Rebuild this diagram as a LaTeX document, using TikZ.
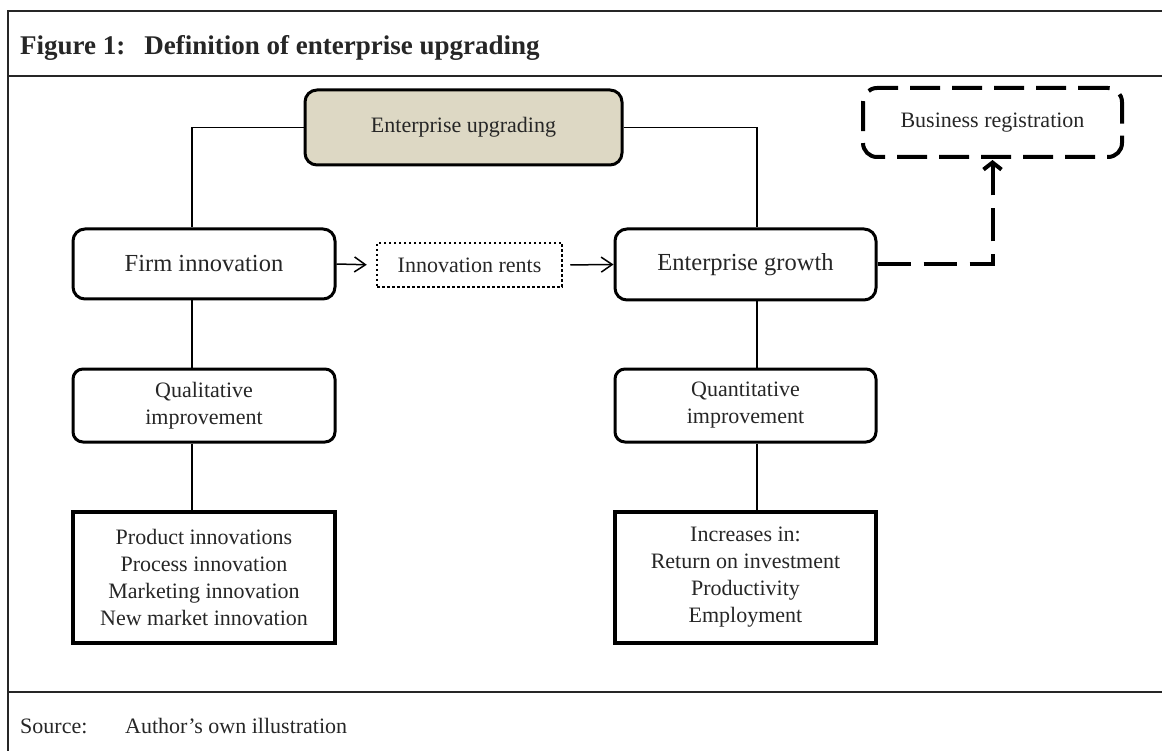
\documentclass[tikz,border=0pt]{standalone}
\usepackage{fontspec}
\setmainfont{Liberation Serif}
\usetikzlibrary{arrows.meta}
\definecolor{ink}{HTML}{262626}
\definecolor{beige}{HTML}{DDD8C4}
\begin{document}
\begin{tikzpicture}[x=1pt,y=-1pt,
  txt/.style={font=\fontsize{22}{27}\selectfont, text=ink, align=center, inner sep=0pt},
  bigtxt/.style={font=\fontsize{24.5}{29}\selectfont},
  rbox/.style={txt, draw=black, line width=3pt, rounded corners=12pt},
  sbox/.style={txt, draw=black, line width=3.5pt},
  thinline/.style={draw=black, line width=1.1pt},
  thinarrow/.style={draw=black, line width=1.5pt, -{Straight Barb[length=11pt,width=15pt,line width=1.5pt]}},
  dashconn/.style={draw=black, line width=4pt, dash pattern=on 33pt off 13pt, -{Straight Barb[length=7pt,width=18pt,line width=4pt]}},
  frame/.style={draw=ink, line width=2.5pt}]
\useasboundingbox (0,0) rectangle (1162,751);
% frame
\draw[frame] (8,751) -- (8,11) -- (1162,11);
\draw[frame] (8,76) -- (1162,76);
\draw[frame] (8,692) -- (1162,692);
\node[anchor=base west, font=\bfseries\fontsize{27}{31}\selectfont, text=ink, inner sep=0pt] (title) at (20,55) {Figure 1:\hspace{0.7em}Definition of enterprise upgrading};
\node[txt, anchor=base west] (src) at (20,733) {Source:};
\node[txt, anchor=base west] (srctext) at (125,733) {Author’s own illustration};
% nodes
\node[rbox, fill=beige, minimum width=317pt, minimum height=75pt] (EU) at (463.5,127.5) {Enterprise upgrading};
\node[txt, draw=black, line width=4pt, dash pattern=on 30pt off 12pt, rounded corners=14pt, minimum width=259pt, minimum height=69pt] (BR) at (992.5,122.5) {Business registration};
\node[rbox, bigtxt, minimum width=262pt, minimum height=70pt] (FI) at (204,264) {Firm innovation};
\node[rbox, bigtxt, minimum width=261pt, minimum height=71pt] (EG) at (745.5,264.5) {Enterprise growth};
\node[txt, draw=black, line width=2.5pt, dash pattern=on 2.5pt off 2.5pt, minimum width=185pt, minimum height=44pt] (IR) at (469.5,265) {Innovation rents};
\node[rbox, rounded corners=10pt, minimum width=262pt, minimum height=73pt] (QL) at (204,405.5) {Qualitative\\improvement};
\node[rbox, rounded corners=10pt, minimum width=261pt, minimum height=73pt] (QN) at (745.5,405.5) {Quantitative\\improvement};
\node[sbox, minimum width=262pt, minimum height=131pt] (PI) at (204,577.5) {Product innovations\\Process innovation\\Marketing innovation\\New market innovation};
\node[sbox, minimum width=261pt, minimum height=131pt] (IN) at (745.5,577.5) {Increases in:\\Return on investment\\Productivity\\Employment};
% line positions
\coordinate (lx) at (192,0);
\coordinate (rx) at (757,0);
% connectors
\draw[thinline] (EU.west) -| (lx |- FI.north);
\draw[thinline] (EU.east) -| (rx |- EG.north);
\draw[thinline] (lx |- FI.south) -- (lx |- QL.north);
\draw[thinline] (lx |- QL.south) -- (lx |- PI.north);
\draw[thinline] (rx |- EG.south) -- (rx |- QN.north);
\draw[thinline] (rx |- QN.south) -- (rx |- IN.north);
\draw[thinarrow, shorten >=9pt] (FI.east) -- (IR.west);
\draw[thinarrow, shorten <=7pt] (IR.east) -- (EG.west);
\draw[dashconn, shorten >=1pt] (EG.east) -| (BR.south);
\end{tikzpicture}
\end{document}
